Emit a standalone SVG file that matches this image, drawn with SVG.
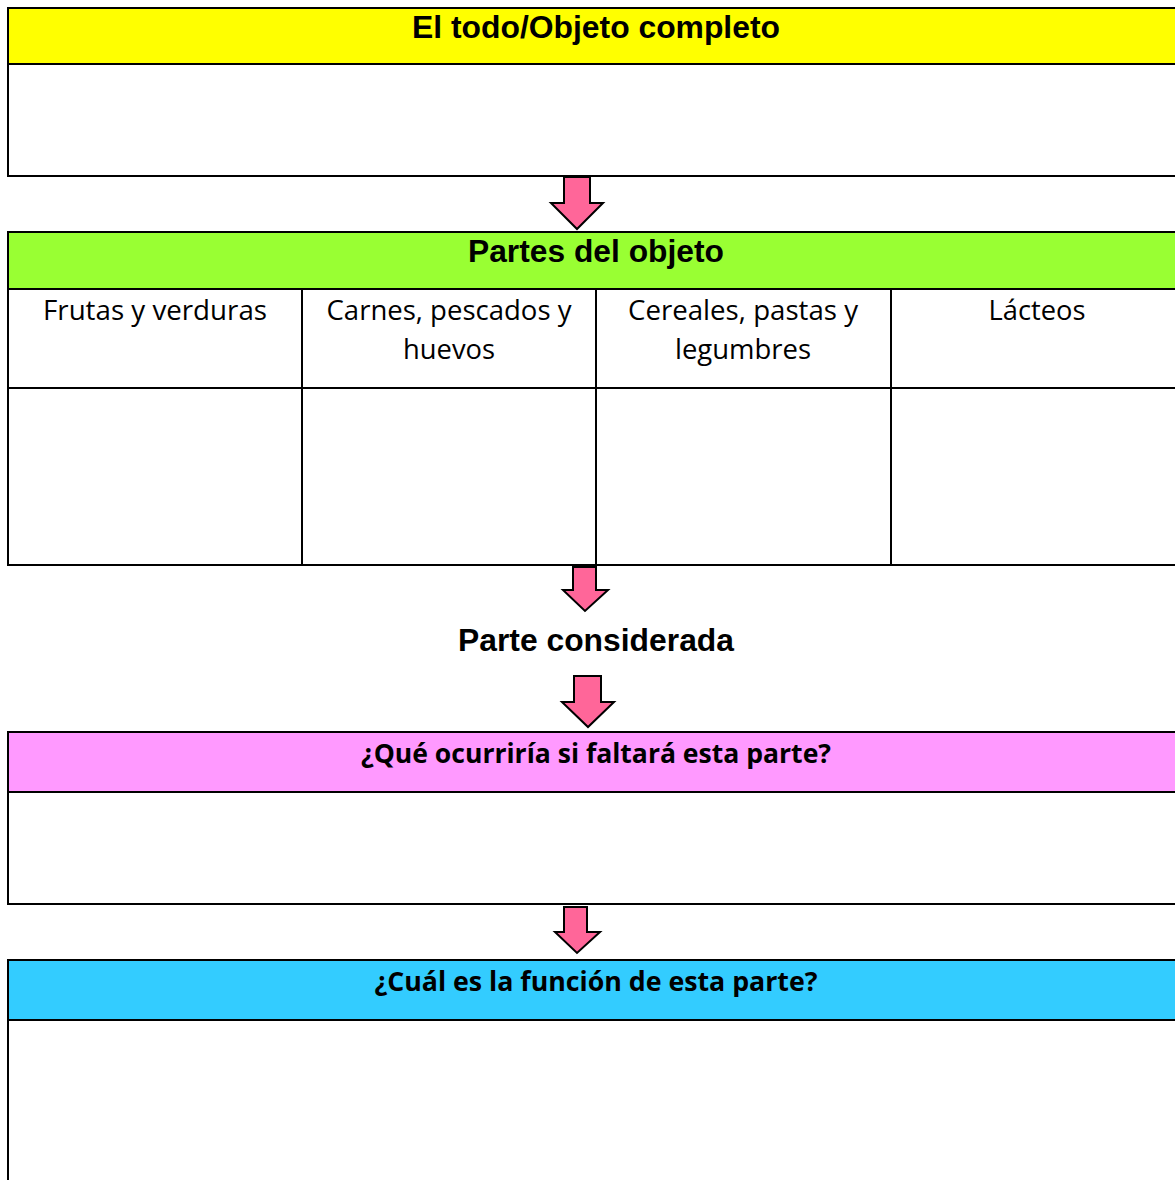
<svg xmlns="http://www.w3.org/2000/svg" width="1175" height="1180" viewBox="0 0 1175 1180">
<style>
.ln{stroke:#000;stroke-width:2;fill:none}
.arr{fill:#FF6699;stroke:#000;stroke-width:2;stroke-linejoin:miter}
.h1{font-family:"Liberation Sans",Arial,sans-serif;font-weight:bold;font-size:31px;fill:#000;text-anchor:middle}
.h2{font-family:"Open Sans","Noto Sans",sans-serif;font-weight:bold;font-size:26px;fill:#000;text-anchor:middle}
.c{font-family:"Open Sans","Noto Sans",sans-serif;font-size:27px;fill:#000;text-anchor:middle}
</style>
<rect width="1175" height="1180" fill="#fff"/>
<g id="todo">
<rect x="8" y="8" width="1180" height="56" fill="#FFFF00"/>
<path class="ln" d="M8 8H1176M8 64H1176M8 176H1176M8 7V177"/>
<text class="h1" x="596" y="38" textLength="368" lengthAdjust="spacingAndGlyphs">El todo/Objeto completo</text>
</g>
<g id="partes">
<rect x="8" y="232" width="1180" height="57" fill="#99FF33"/>
<path class="ln" d="M8 232H1176M8 289H1176M8 388H1176M8 565H1176M8 231V566M302 289V565M596 289V565M891 289V565"/>
<text class="h1" x="596" y="262" textLength="256" lengthAdjust="spacingAndGlyphs">Partes del objeto</text>
<text class="c" x="155" y="320" textLength="224" lengthAdjust="spacingAndGlyphs">Frutas y verduras</text>
<text class="c" x="449" y="320" textLength="245" lengthAdjust="spacingAndGlyphs">Carnes, pescados y</text>
<text class="c" x="449" y="359" textLength="92" lengthAdjust="spacingAndGlyphs">huevos</text>
<text class="c" x="743" y="320" textLength="230" lengthAdjust="spacingAndGlyphs">Cereales, pastas y</text>
<text class="c" x="743" y="359" textLength="136" lengthAdjust="spacingAndGlyphs">legumbres</text>
<text class="c" x="1037" y="320" textLength="97" lengthAdjust="spacingAndGlyphs">Lácteos</text>
</g>
<g id="considerada">
<text class="h1" x="596" y="651" textLength="276" lengthAdjust="spacingAndGlyphs">Parte considerada</text>
</g>
<g id="faltara">
<rect x="8" y="732" width="1180" height="60" fill="#FF99FF"/>
<path class="ln" d="M8 732H1176M8 792H1176M8 904H1176M8 731V905"/>
<text class="h2" x="596" y="763" textLength="470" lengthAdjust="spacingAndGlyphs">¿Qué ocurriría si faltará esta parte?</text>
</g>
<g id="funcion">
<rect x="8" y="960" width="1180" height="60" fill="#33CCFF"/>
<path class="ln" d="M8 960H1176M8 1020H1176M8 959V1181"/>
<text class="h2" x="596" y="991" textLength="443" lengthAdjust="spacingAndGlyphs">¿Cuál es la función de esta parte?</text>
</g>
<g id="connectors">
<path class="arr" d="M564 177H590V203H603L577 229L551 203H564Z"/>
<path class="arr" d="M573 567H596V590H608L585 611L563 590H573Z"/>
<path class="arr" d="M574 676H601V702H614L588 727L562 702H574Z"/>
<path class="arr" d="M564 907H587V932H600L577 953L555 932H564Z"/>
</g>
</svg>
